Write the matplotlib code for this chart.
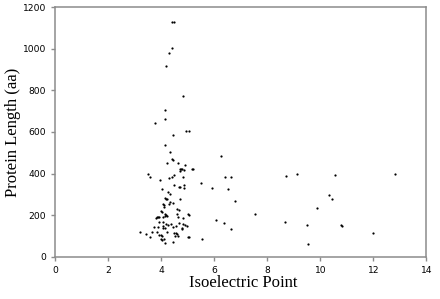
import matplotlib
matplotlib.use("Agg")
import matplotlib.pyplot as plt

# Isoelectric point (x) and protein length in aa (y)
pI = [4.40, 4.48, 4.39, 4.30, 4.17, 4.83, 4.13, 4.15, 3.75, 4.92, 5.03, 4.45, 4.15,
      4.33, 4.23, 4.40, 4.44, 4.64, 4.88, 4.69, 4.74, 4.79, 4.72, 4.86, 5.15, 5.20,
      3.50, 3.56, 3.94, 4.30, 4.39, 4.47, 4.48, 4.66, 4.70, 4.86, 4.87, 4.04, 4.26,
      4.34, 4.13, 4.18, 4.23, 4.71, 4.06, 4.11, 4.29, 4.33, 4.45, 4.09, 4.59, 4.68,
      3.99, 4.03, 4.13, 4.19, 4.15, 3.80, 3.84, 3.88, 3.92, 4.08, 4.20, 4.58, 4.64,
      4.81, 5.02, 3.91, 4.06, 4.18, 4.24, 4.38, 4.68, 4.83, 4.89, 4.96, 3.72, 3.88,
      4.05, 4.07, 4.14, 4.45, 4.54, 4.77, 4.78, 3.21, 3.42, 3.57, 3.66, 3.85, 3.90,
      3.99, 4.01, 3.98, 4.04, 4.09, 4.14, 4.43, 4.49, 4.54, 4.58, 4.53, 4.62, 5.02,
      4.22, 4.82,
      6.26, 6.42, 6.63, 5.51, 5.91, 6.51, 6.78, 5.03, 7.55, 6.05, 6.37, 6.63, 5.03,
      5.52, 8.67, 8.71, 9.12, 9.51, 9.55, 9.89, 10.32, 10.55, 10.43, 10.77, 10.83,
      12.00, 12.83]
length = [1129, 1129, 1005, 978, 916, 771, 706, 661, 643, 603, 603, 584, 536,
          504, 449, 468, 464, 452, 441, 422, 422, 422, 414, 416, 423, 422,
          398, 382, 369, 379, 385, 392, 346, 334, 334, 345, 329, 324, 310,
          300, 284, 278, 279, 276, 255, 250, 255, 262, 257, 238, 231, 223,
          220, 217, 204, 202, 196, 188, 193, 191, 189, 192, 197, 207, 191,
          185, 204, 167, 167, 157, 152, 159, 164, 159, 152, 148, 144, 141,
          148, 140, 140, 143, 148, 135, 140, 120, 109, 93, 117, 119, 104,
          106, 100, 84, 80, 84, 67, 72, 114, 112, 108, 98, 101, 96,
          120, 385,
          483, 382, 382, 354, 329, 324, 266, 200, 204, 177, 164, 132, 93,
          84, 165, 387, 398, 154, 60, 233, 295, 393, 276, 152, 148,
          112, 398]

x_ticks = [0, 2, 4, 6, 8, 10, 12, 14]
y_ticks = [0, 200, 400, 600, 800, 1000, 1200]

fig = plt.figure(figsize=(4.4, 2.99), dpi=100)
ax = fig.add_axes([0.1257, 0.1415, 0.9690 - 0.1257, 0.9756 - 0.1415])
ax.plot(pI, length, 'o', color='black', markersize=1.6, markeredgewidth=0)
ax.set_xlim(0, 14)
ax.set_ylim(0, 1200)
ax.set_xticks(x_ticks)
ax.set_yticks(y_ticks)
for s in ax.spines.values():
    s.set_color('#8c8c8c')
    s.set_linewidth(1.1)
ax.tick_params(direction='out', length=3, width=1, color='#8c8c8c',
               labelsize=6.6, pad=3.5)
for lab in ax.get_xticklabels() + ax.get_yticklabels():
    lab.set_family('DejaVu Sans')
ax.set_xlabel('Isoelectric Point', family='Liberation Serif', fontsize=12)
ax.set_ylabel('Protein Length (aa)', family='Liberation Serif', fontsize=12)
ax.xaxis.set_label_coords(0.5 + (243.5 - 240.8) / 371.0, -0.072)
ax.yaxis.set_label_coords(-0.092, 0.5 + (131.5 - 132.0) / 249.4)
fig.savefig('out.png', dpi=100)
